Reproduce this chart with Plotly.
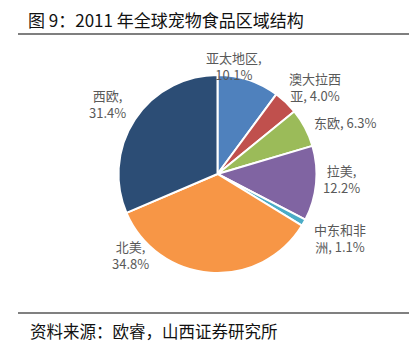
import plotly.graph_objects as go

# Data
regions = ["亚太地区", "澳大拉西亚", "东欧", "拉美", "中东和非洲", "北美", "西欧"]
shares = [10.1, 4.0, 6.3, 12.2, 1.1, 34.8, 31.4]
label_text = ["亚太地区,<br>10.1%", "澳大拉西<br>亚, 4.0%", "东欧, 6.3%", "拉美,<br>12.2%",
              "中东和非<br>洲, 1.1%", "北美,<br>34.8%", "西欧,<br>31.4%"]
colors = ["#4F81BD", "#C0504D", "#9BBB59", "#8064A2", "#4BACC6", "#F79646", "#2C4D75"]

title_text = "图 9：2011 年全球宠物食品区域结构"
source_text = "资料来源：欧睿，山西证券研究所"

# page body has an 8px margin; figure is sized to the visible area
OFF = 8
W, H = 417 - OFF, 356 - OFF


def px2paper(x, y):
    return (x - OFF) / W, 1 - (y - OFF) / H


# label centres in window pixels (layout)
label_pos = [(234, 66), (315, 87), (345, 122), (341, 179), (340, 238), (130, 255), (107, 104)]

cx, cy, r = 217.5, 174, 99
x0, y1 = px2paper(cx - r, cy - r)
x1, y0 = px2paper(cx + r, cy + r)

fig = go.Figure(go.Pie(
    labels=regions,
    values=shares,
    sort=False,
    direction="clockwise",
    rotation=0,
    marker=dict(colors=colors, line=dict(color="white", width=2)),
    textinfo="none",
    hoverinfo="label+percent",
    showlegend=False,
    domain=dict(x=[x0, x1], y=[y0, y1]),
))

annotations = []
for txt, (px, py) in zip(label_text, label_pos):
    ax, ay = px2paper(px, py)
    annotations.append(dict(
        x=ax, y=ay, xref="paper", yref="paper",
        text=txt, showarrow=False, xanchor="center", yanchor="middle", align="center",
        font=dict(family="Noto Sans CJK SC, Liberation Sans", size=13, color="#595959"),
    ))

tx, ty = px2paper(27, 20)
annotations.append(dict(
    x=tx, y=ty, xref="paper", yref="paper", text=title_text, showarrow=False, borderpad=0,
    xanchor="left", yanchor="middle", font=dict(family="Noto Sans CJK SC", size=17, color="#111111"),
))
sx, sy = px2paper(28, 331)
annotations.append(dict(
    x=sx, y=sy, xref="paper", yref="paper", text=source_text, showarrow=False,
    xanchor="left", yanchor="middle", font=dict(family="Noto Sans CJK SC", size=16.5, color="#111111"),
))

lx0, ly_top = px2paper(18, 34)
lx1, ly_bot = px2paper(410, 313)
shapes = [
    dict(type="line", xref="paper", yref="paper", x0=lx0, x1=lx1, y0=ly_top, y1=ly_top,
         line=dict(color="#555555", width=1.5)),
    dict(type="line", xref="paper", yref="paper", x0=lx0, x1=lx1, y0=ly_bot, y1=ly_bot,
         line=dict(color="#808080", width=2)),
]

fig.update_layout(
    width=W, height=H,
    margin=dict(l=0, r=0, t=0, b=0),
    paper_bgcolor="white", plot_bgcolor="white",
    annotations=annotations, shapes=shapes,
)

fig.write_html("out.html")
